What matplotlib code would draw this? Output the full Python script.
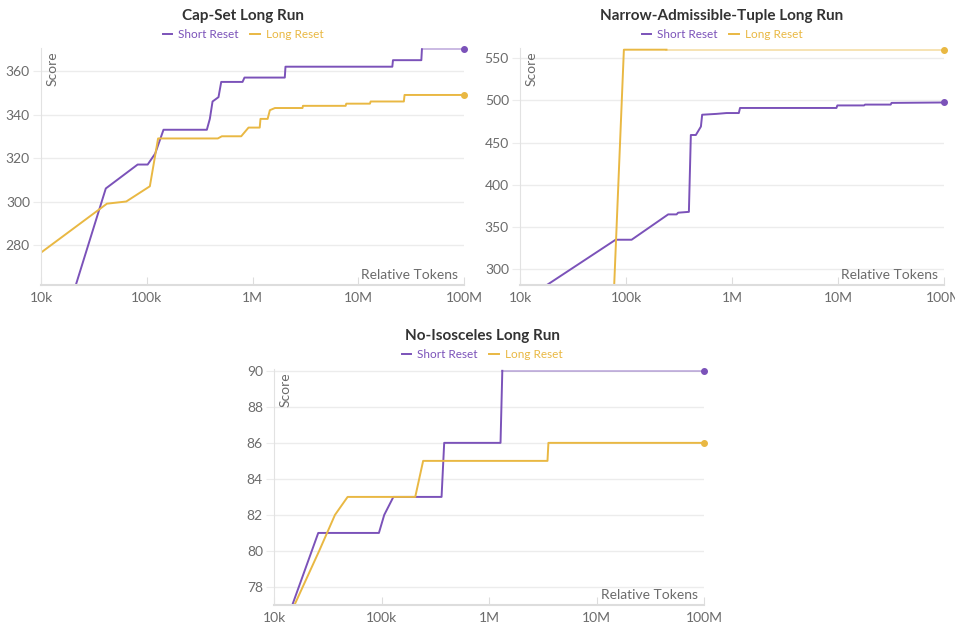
import numpy as np
import matplotlib
matplotlib.use('Agg')
import matplotlib.pyplot as plt

plt.rcParams['font.family'] = ['Lato', 'DejaVu Sans']

# --------------------------------------------------
# data (relative tokens, score)
# --------------------------------------------------
cap_short_x = [18e3, 41e3, 82e3, 102e3, 120e3, 144e3, 370e3, 395e3, 419e3, 477e3, 506e3, 805e3,
               840e3, 2.02e6, 2.05e6, 21e6, 21.3e6, 39.5e6, 40e6, 100e6]
cap_short_y = [250, 306, 317, 317, 322, 333, 333, 338, 346, 348, 355, 355,
               357, 357, 362, 362, 365, 365, 370, 370]
cap_long_x = [10e3, 42e3, 64e3, 107e3, 128e3, 470e3, 513e3, 782e3, 917e3, 1.17e6, 1.19e6, 1.39e6,
              1.46e6, 1.63e6, 2.97e6, 3.0e6, 7.6e6, 7.7e6, 12.9e6, 13.1e6, 27e6, 27.4e6, 100e6]
cap_long_y = [276.5, 299, 300, 307, 329, 329, 330, 330, 334, 334, 338, 338,
              342, 343, 343, 344, 344, 345, 345, 346, 346, 349, 349]

nat_short_x = [15e3, 79.8e3, 113e3, 250e3, 300e3, 310e3, 392e3, 409e3, 456e3, 509e3, 523e3, 714e3,
               888e3, 1.16e6, 1.19e6, 9.67e6, 9.86e6, 17.6e6, 18e6, 31.4e6, 32e6, 100e6]
nat_short_y = [275, 335, 335, 365, 365, 367, 368, 459, 459, 469, 483, 484,
               485, 485, 491, 491, 494, 494, 495, 495, 497, 497.5]
nat_long_x = [75e3, 95.5e3, 241e3, 100e6]
nat_long_y = [240, 560, 560, 560]

iso_short_x = [10e3, 14.8e3, 25.8e3, 94.6e3, 106e3, 129e3, 362e3, 383e3, 1.28e6, 1.33e6, 100e6]
iso_short_y = [77, 77, 81, 81, 82, 83, 83, 86, 86, 90, 90]
iso_long_x = [10e3, 15.5e3, 26.3e3, 36.9e3, 48.4e3, 206e3, 244e3, 3.5e6, 3.57e6, 100e6]
iso_long_y = [77, 77, 80, 82, 83, 83, 85, 85, 86, 86]

# last segment drawn faded? (extension to 100M)
fade = {'cap_short': True, 'cap_long': False, 'nat_short': False, 'nat_long': True,
        'iso_short': True, 'iso_long': False}

purple = '#7b52b9'
yellow = '#e9b843'
grey = '#6b6b6b'

panels = [
    dict(title='Cap-Set Long Run', rect=[41 / 955, 1 - 285 / 629, 423 / 955, 237 / 629],
         ylim=(261.6, 370.6), yticks=[280, 300, 320, 340, 360], tcx=243 / 955, tcy=1 - 16 / 629,
         series=[(cap_short_x, cap_short_y, purple, 'Short Reset', fade['cap_short']),
                 (cap_long_x, cap_long_y, yellow, 'Long Reset', fade['cap_long'])]),
    dict(title='Narrow-Admissible-Tuple Long Run', rect=[520 / 955, 1 - 285 / 629, 424 / 955, 237 / 629],
         ylim=(281.4, 562), yticks=[300, 350, 400, 450, 500, 550], tcx=722 / 955, tcy=1 - 16 / 629,
         series=[(nat_short_x, nat_short_y, purple, 'Short Reset', fade['nat_short']),
                 (nat_long_x, nat_long_y, yellow, 'Long Reset', fade['nat_long'])]),
    dict(title='No-Isosceles Long Run', rect=[274 / 955, 1 - 605 / 629, 430 / 955, 236 / 629],
         ylim=(77, 90.1), yticks=[78, 80, 82, 84, 86, 88, 90], tcx=482 / 955, tcy=1 - 336 / 629,
         series=[(iso_short_x, iso_short_y, purple, 'Short Reset', fade['iso_short']),
                 (iso_long_x, iso_long_y, yellow, 'Long Reset', fade['iso_long'])]),
]

xticks = [1e4, 1e5, 1e6, 1e7, 1e8]
xlabels = ['10k', '100k', '1M', '10M', '100M']

fig = plt.figure(figsize=(9.55, 6.29), dpi=100)

for p in panels:
    ax = fig.add_axes(p['rect'])
    ax.set_xscale('log')
    handles = []
    for xs, ys, col, lab, fd in p['series']:
        if fd:
            h, = ax.plot(xs[:-1], ys[:-1], color=col, lw=1.4, label=lab)
            ax.plot(xs[-2:], ys[-2:], color=col, lw=1.4, alpha=0.4)
        else:
            h, = ax.plot(xs, ys, color=col, lw=1.4, label=lab)
        ax.plot(xs[-1], ys[-1], 'o', color=col, ms=4, clip_on=False, zorder=5)
        handles.append(h)

    ax.set_xlim(1e4, 1e8)
    ax.set_ylim(p['ylim'])
    ax.set_yticks(p['yticks'])
    ax.set_xticks(xticks)
    ax.set_xticklabels(xlabels)
    ax.minorticks_off()
    ax.grid(axis='y', color='#ececec', lw=1)
    ax.set_axisbelow(True)
    for s in ['top', 'right']:
        ax.spines[s].set_visible(False)
    ax.spines['left'].set_color('#e2e2e2')
    ax.spines['bottom'].set_color('#dddddd')
    ax.spines['bottom'].set_linewidth(1.5)
    ax.tick_params(axis='y', length=6, color='#ececec', labelsize=10, labelcolor=grey, pad=2)
    ax.tick_params(axis='x', direction='in', length=6, color='#dddddd', labelsize=10,
                   labelcolor=grey, pad=5)

    ax.text(0.012, 0.985, 'Score', rotation=90, ha='left', va='top', transform=ax.transAxes,
            fontsize=10, color=grey)
    ax.text(0.985, 0.015, 'Relative Tokens', ha='right', va='bottom', transform=ax.transAxes,
            fontsize=10, color=grey)

    fig.text(p['tcx'], p['tcy'], p['title'], ha='center', va='center', fontsize=11,
             fontweight='bold', color='#333333')
    ax.legend(handles=handles, loc='center', bbox_to_anchor=(p['tcx'], p['tcy'] - 19 / 629),
              bbox_transform=fig.transFigure, ncol=2, frameon=False, fontsize=8.5,
              labelcolor='linecolor', handlelength=0.8, handletextpad=0.5, columnspacing=1.0,
              borderpad=0, borderaxespad=0)

fig.savefig('out.png', dpi=100)
